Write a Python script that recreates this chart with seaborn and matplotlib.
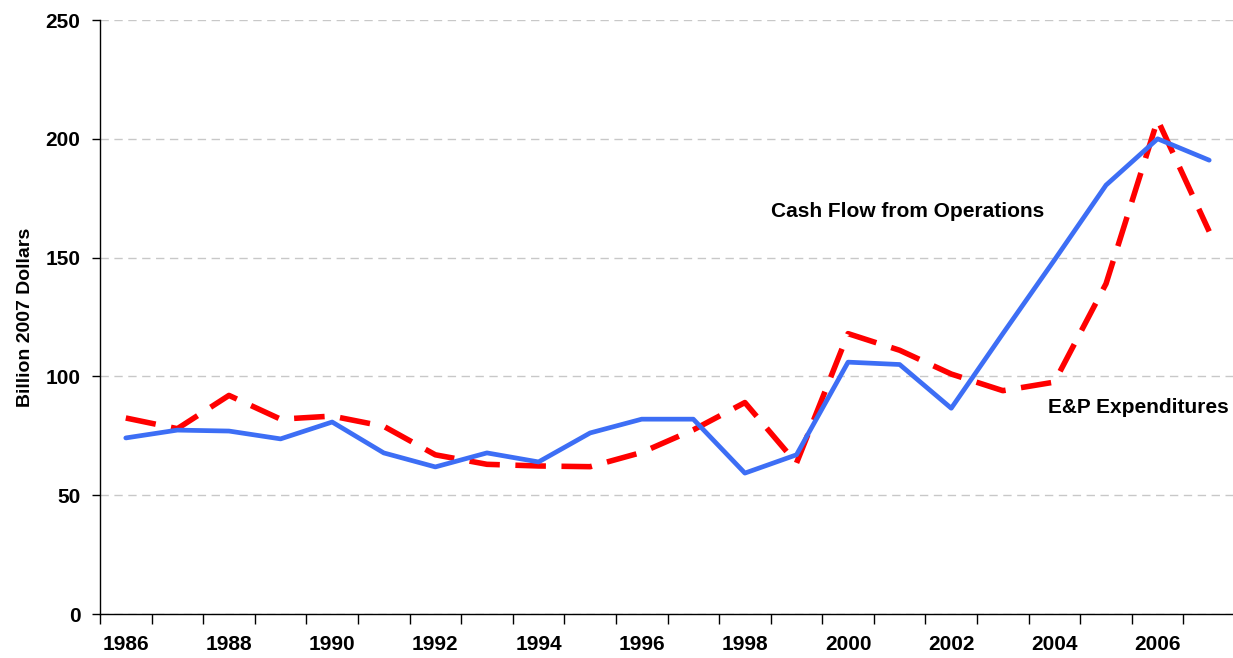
import pandas as pd
import matplotlib.pyplot as plt
import seaborn as sns
from matplotlib.ticker import MultipleLocator, FixedLocator

# === data
years = list(range(1986, 2008))
cash_flow = [74.1, 77.4, 77.0, 73.7, 80.8, 67.8, 61.9, 67.8, 64.0, 76.2, 82.0,
             82.0, 59.3, 67.0, 106.0, 105.0, 86.6, 118.0, 149.0, 180.5, 200.0, 191.0]
ep_spend = [82.5, 78.0, 92.0, 82.0, 83.3, 79.0, 67.0, 63.0, 62.3, 62.0, 68.0,
            77.5, 89.0, 63.5, 118.0, 111.0, 101.0, 94.0, 97.6, 139.0, 208.0, 161.0]

df = pd.DataFrame({"Year": years, "Cash Flow": cash_flow, "E&P": ep_spend})

sns.set_style("white")
plt.rcParams["font.family"] = ["Liberation Sans", "DejaVu Sans"]
plt.rcParams["font.weight"] = "bold"
plt.rcParams["text.color"] = "black"
plt.rcParams["axes.labelcolor"] = "black"
plt.rcParams["xtick.color"] = "black"
plt.rcParams["ytick.color"] = "black"

fig = plt.figure(figsize=(12.33, 6.58), dpi=100)
ax = fig.add_axes([100 / 1233, 1 - 614 / 658, 1135 / 1233, 594 / 658])

sns.lineplot(data=df, x="Year", y="E&P", ax=ax, color="#FF0000",
             linewidth=4.0)
ax.lines[-1].set_dashes((5.5, 2.8))
sns.lineplot(data=df, x="Year", y="Cash Flow", ax=ax, color="#3D6EF5",
             linewidth=3.4)

ax.set_xlim(1985.5, 2007.5)
ax.set_ylim(0, 250)
ax.yaxis.set_major_locator(MultipleLocator(50))
ax.xaxis.set_major_locator(FixedLocator(years[::2]))
ax.xaxis.set_minor_locator(FixedLocator([y - 0.5 for y in years]))
ax.tick_params(axis="x", which="major", bottom=True, length=0, pad=15, labelsize=15)
ax.tick_params(axis="x", which="minor", bottom=True, length=7, width=1, direction="out")
ax.tick_params(axis="y", left=True, length=6, width=1, direction="out", labelsize=15, pad=8)

ax.grid(axis="y", color="#C8C8C8", linestyle=(0, (6, 4)), linewidth=1)
for s in ["top", "right"]:
    ax.spines[s].set_visible(False)
for s in ["left", "bottom"]:
    ax.spines[s].set_color("black")
    ax.spines[s].set_linewidth(1)

ax.set_xlabel("")
ax.set_ylabel("Billion 2007 Dollars", fontsize=14, fontweight="bold", labelpad=8)

ax.text(1998.5, 169.5, "Cash Flow from Operations", fontsize=15, fontweight="bold",
        va="center", ha="left")
ax.text(2003.87, 87, "E&P Expenditures", fontsize=15, fontweight="bold",
        va="center", ha="left")

fig.savefig("out.png", dpi=100)
